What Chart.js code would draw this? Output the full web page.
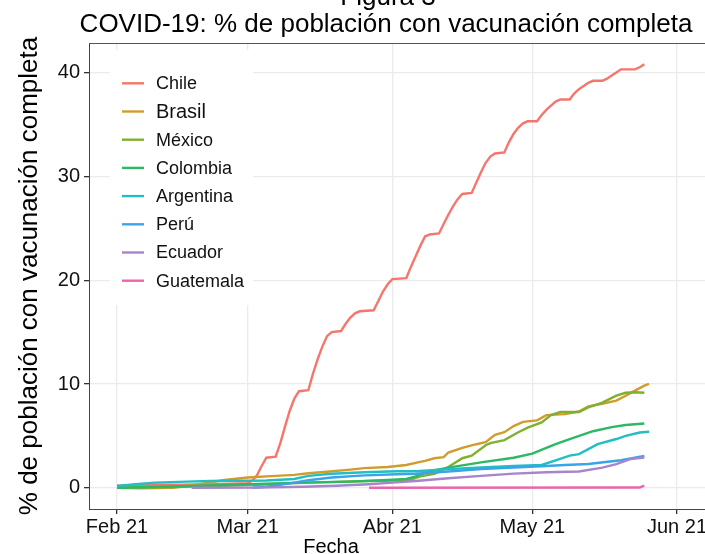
<!DOCTYPE html>
<html>
<head>
<meta charset="utf-8">
<script src="https://cdn.jsdelivr.net/npm/chart.js@4.4.0/dist/chart.umd.min.js"></script>
<style>
  html, body { margin: 0; padding: 0; background: #fff; }
  #wrap { width: 705px; height: 554px; }
</style>
</head>
<body>
<div id="wrap"><canvas id="vacChart" width="705" height="554"></canvas></div>
<script>
// datos (% de poblacion con vacunacion completa)
const paises = ['Chile', 'Brasil', 'México', 'Colombia', 'Argentina', 'Perú', 'Ecuador', 'Guatemala'];
const colores = ['#f4766d', '#d29c2c', '#7fb030', '#2cb866', '#22bec3', '#3aa4e8', '#a784cb', '#ea66ac'];

const fechasChile = ['2021-02-01','2021-02-08','2021-02-15','2021-02-22','2021-03-01','2021-03-02','2021-03-03','2021-03-04','2021-03-05','2021-03-07','2021-03-08','2021-03-09','2021-03-10','2021-03-11','2021-03-12','2021-03-14','2021-03-15','2021-03-16','2021-03-17','2021-03-18','2021-03-19','2021-03-21','2021-03-22','2021-03-23','2021-03-24','2021-03-25','2021-03-28','2021-03-29','2021-03-30','2021-03-31','2021-04-01','2021-04-04','2021-04-05','2021-04-06','2021-04-07','2021-04-08','2021-04-09','2021-04-11','2021-04-12','2021-04-13','2021-04-14','2021-04-15','2021-04-16','2021-04-18','2021-04-19','2021-04-20','2021-04-21','2021-04-22','2021-04-23','2021-04-25','2021-04-26','2021-04-27','2021-04-28','2021-04-29','2021-04-30','2021-05-02','2021-05-03','2021-05-04','2021-05-05','2021-05-06','2021-05-07','2021-05-09','2021-05-10','2021-05-11','2021-05-12','2021-05-13','2021-05-14','2021-05-16','2021-05-17','2021-05-18','2021-05-19','2021-05-20','2021-05-23','2021-05-24','2021-05-25'];
const valoresChile = [0.2,0.3,0.3,0.35,0.45,0.7,1.2,2.1,2.9,3.0,4.3,5.9,7.4,8.6,9.3,9.4,11.0,12.4,13.6,14.6,15.0,15.1,15.8,16.4,16.8,17.0,17.1,18.0,18.9,19.6,20.1,20.2,21.3,22.3,23.3,24.2,24.4,24.5,25.4,26.3,27.1,27.8,28.3,28.4,29.4,30.4,31.3,31.9,32.2,32.3,33.3,34.1,34.7,35.1,35.3,35.3,35.9,36.4,36.8,37.2,37.4,37.4,38.0,38.4,38.7,39.0,39.2,39.2,39.4,39.7,40.0,40.3,40.3,40.5,40.8];

const fechasBrasil = ['2021-02-01','2021-02-06','2021-02-13','2021-02-18','2021-02-24','2021-03-01','2021-03-07','2021-03-11','2021-03-14','2021-03-18','2021-03-23','2021-03-26','2021-03-31','2021-04-04','2021-04-06','2021-04-08','2021-04-10','2021-04-12','2021-04-13','2021-04-16','2021-04-19','2021-04-21','2021-04-23','2021-04-25','2021-04-27','2021-04-29','2021-05-02','2021-05-04','2021-05-08','2021-05-11','2021-05-13','2021-05-16','2021-05-19','2021-05-21','2021-05-23','2021-05-25','2021-05-26'];
const valoresBrasil = [0.0,-0.05,0.0,0.3,0.75,1.0,1.15,1.25,1.4,1.55,1.75,1.9,2.0,2.2,2.4,2.6,2.85,2.95,3.4,3.85,4.2,4.4,5.1,5.35,5.95,6.35,6.5,7.0,7.1,7.35,7.85,8.1,8.4,8.87,9.36,9.84,10.0];

const fechasMexico = ['2021-02-01','2021-02-11','2021-02-24','2021-03-03','2021-03-14','2021-03-27','2021-04-02','2021-04-05','2021-04-07','2021-04-10','2021-04-13','2021-04-16','2021-04-18','2021-04-21','2021-04-22','2021-04-25','2021-04-28','2021-04-30','2021-05-03','2021-05-05','2021-05-07','2021-05-11','2021-05-13','2021-05-16','2021-05-19','2021-05-21','2021-05-23','2021-05-25'];
const valoresMexico = [0.0,0.05,0.2,0.3,0.5,0.65,0.7,0.8,1.1,1.35,2.0,2.85,3.1,4.1,4.3,4.6,5.35,5.8,6.3,7.0,7.3,7.3,7.75,8.2,8.87,9.15,9.2,9.15];

const fechasColombia = ['2021-02-01','2021-02-15','2021-03-01','2021-03-13','2021-03-23','2021-03-31','2021-04-04','2021-04-06','2021-04-09','2021-04-13','2021-04-20','2021-04-27','2021-05-01','2021-05-04','2021-05-06','2021-05-09','2021-05-14','2021-05-18','2021-05-21','2021-05-25'];
const valoresColombia = [0.0,0.15,0.35,0.5,0.6,0.75,0.85,1.1,1.6,1.95,2.45,2.9,3.3,3.85,4.2,4.7,5.45,5.85,6.05,6.2];

const fechasArgentina = ['2021-02-01','2021-02-05','2021-02-09','2021-02-16','2021-02-21','2021-03-05','2021-03-11','2021-03-14','2021-03-19','2021-03-26','2021-04-02','2021-04-06','2021-04-13','2021-04-20','2021-04-27','2021-05-03','2021-05-06','2021-05-09','2021-05-11','2021-05-15','2021-05-19','2021-05-21','2021-05-24','2021-05-26'];
const valoresArgentina = [0.18,0.35,0.5,0.6,0.65,0.7,0.85,1.15,1.35,1.5,1.6,1.6,1.8,1.95,2.1,2.2,2.65,3.1,3.25,4.2,4.7,5.0,5.33,5.4];

const fechasPeru = ['2021-03-02','2021-03-05','2021-03-09','2021-03-14','2021-03-19','2021-03-26','2021-04-02','2021-04-06','2021-04-13','2021-04-20','2021-04-27','2021-05-04','2021-05-08','2021-05-13','2021-05-20','2021-05-25'];
const valoresPeru = [0.0,0.1,0.35,0.73,1.0,1.2,1.3,1.35,1.57,1.8,1.95,2.1,2.2,2.3,2.66,3.08];

const fechasEcuador = ['2021-02-17','2021-03-03','2021-03-13','2021-03-20','2021-03-27','2021-04-01','2021-04-06','2021-04-13','2021-04-20','2021-04-27','2021-05-04','2021-05-11','2021-05-16','2021-05-19','2021-05-22','2021-05-25'];
const valoresEcuador = [0.0,0.02,0.1,0.2,0.35,0.5,0.66,0.92,1.15,1.37,1.5,1.57,1.95,2.28,2.76,2.92];

const fechasGuatemala = ['2021-03-27','2021-05-24','2021-05-25'];
const valoresGuatemala = [0.0,0.03,0.2];

const fechasTicksX = ['2021-02-01','2021-03-01','2021-04-01','2021-05-01','2021-06-01'];
const etiquetasX = ['Feb 21', 'Mar 21', 'Abr 21', 'May 21', 'Jun 21'];
const ticksY = [0, 10, 20, 30, 40];

const todasFechas = [fechasChile, fechasBrasil, fechasMexico, fechasColombia, fechasArgentina, fechasPeru, fechasEcuador, fechasGuatemala];
const todosValores = [valoresChile, valoresBrasil, valoresMexico, valoresColombia, valoresArgentina, valoresPeru, valoresEcuador, valoresGuatemala];

// dias desde el 1 de febrero
const origen = Date.UTC(2021, 1, 1);
function dia(f) {
    const p = f.split('-');
    return (Date.UTC(+p[0], +p[1] - 1, +p[2]) - origen) / 86400000;
}

const fuente = '"Liberation Sans", Arial, sans-serif';

const datasets = paises.map((p, i) => ({
    label: p,
    data: todasFechas[i].map((f, j) => ({ x: dia(f), y: todosValores[i][j] })),
    borderColor: colores[i],
    backgroundColor: colores[i],
    borderWidth: 2.4,
    pointRadius: 0,
    tension: 0,
    fill: false,
    order: paises.length - i
}));

const textos = {
    id: 'textos',
    afterDraw(chart) {
        const ctx = chart.ctx;
        const area = chart.chartArea;
        ctx.save();
        // borde superior del panel
        ctx.strokeStyle = '#555';
        ctx.lineWidth = 1;
        ctx.beginPath();
        ctx.moveTo(area.left, area.top + 0.5);
        ctx.lineTo(area.right, area.top + 0.5);
        ctx.stroke();

        // leyenda dentro del panel
        ctx.fillStyle = '#fff';
        ctx.fillRect(110, 50, 143, 255);
        paises.forEach((p, i) => {
            const y = 83.3 + i * 28.2;
            ctx.strokeStyle = colores[i];
            ctx.lineWidth = 2.4;
            ctx.beginPath();
            ctx.moveTo(122, y);
            ctx.lineTo(144, y);
            ctx.stroke();
            ctx.fillStyle = '#111';
            ctx.font = (p === 'Brasil' ? '20px ' : '18px ') + fuente;
            ctx.textAlign = 'left';
            ctx.textBaseline = 'middle';
            ctx.fillText(p, 156, y + 1);
        });

        // titulos
        ctx.fillStyle = '#000';
        ctx.textAlign = 'center';
        ctx.textBaseline = 'alphabetic';
        ctx.font = '26px ' + fuente;
        ctx.fillText('Figura 3', 388, 5);
        ctx.fillText('COVID-19: % de población con vacunación completa', 386, 32);

        ctx.font = '20px ' + fuente;
        ctx.fillText('Fecha', 331, 553);

        ctx.translate(37, (area.top + area.bottom) / 2);
        ctx.rotate(-Math.PI / 2);
        ctx.font = '26px ' + fuente;
        ctx.fillText('% de población con vacunación completa', 0, 0);
        ctx.restore();
    }
};

const ctx = document.getElementById('vacChart').getContext('2d');
const vacChart = new Chart(ctx, {
    type: 'line',
    data: { datasets: datasets },
    options: {
        responsive: false,
        animation: false,
        devicePixelRatio: 1,
        layout: { padding: { top: 43, right: 0, bottom: 0, left: 0 } },
        plugins: {
            legend: { display: false },
            title: { display: false },
            tooltip: { enabled: false }
        },
        scales: {
            x: {
                type: 'linear',
                min: -6,
                max: 126,
                afterBuildTicks: axis => { axis.ticks = fechasTicksX.map(f => ({ value: dia(f) })); },
                afterFit: axis => { axis.height = 45; axis.paddingLeft = 0; axis.paddingRight = 0; },
                ticks: {
                    autoSkip: false,
                    maxRotation: 0,
                    padding: 1,
                    color: '#111',
                    font: { family: fuente, size: 20 },
                    callback: (v, i) => etiquetasX[i]
                },
                grid: { color: '#ebebeb', lineWidth: 1.3, tickColor: '#333', tickLength: 5 },
                border: { display: true, color: '#444', width: 1 }
            },
            y: {
                type: 'linear',
                min: -2.04,
                max: 42.84,
                afterBuildTicks: axis => { axis.ticks = ticksY.map(v => ({ value: v })); },
                afterFit: axis => { axis.width = 89; axis.paddingTop = 0; axis.paddingBottom = 0; },
                ticks: {
                    padding: 4,
                    color: '#111',
                    font: { family: fuente, size: 20 },
                    callback: v => String(v)
                },
                grid: { color: '#ebebeb', lineWidth: 1.3, tickColor: '#333', tickLength: 5 },
                border: { display: true, color: '#444', width: 1 }
            }
        }
    },
    plugins: [textos]
});
</script>
</body>
</html>
